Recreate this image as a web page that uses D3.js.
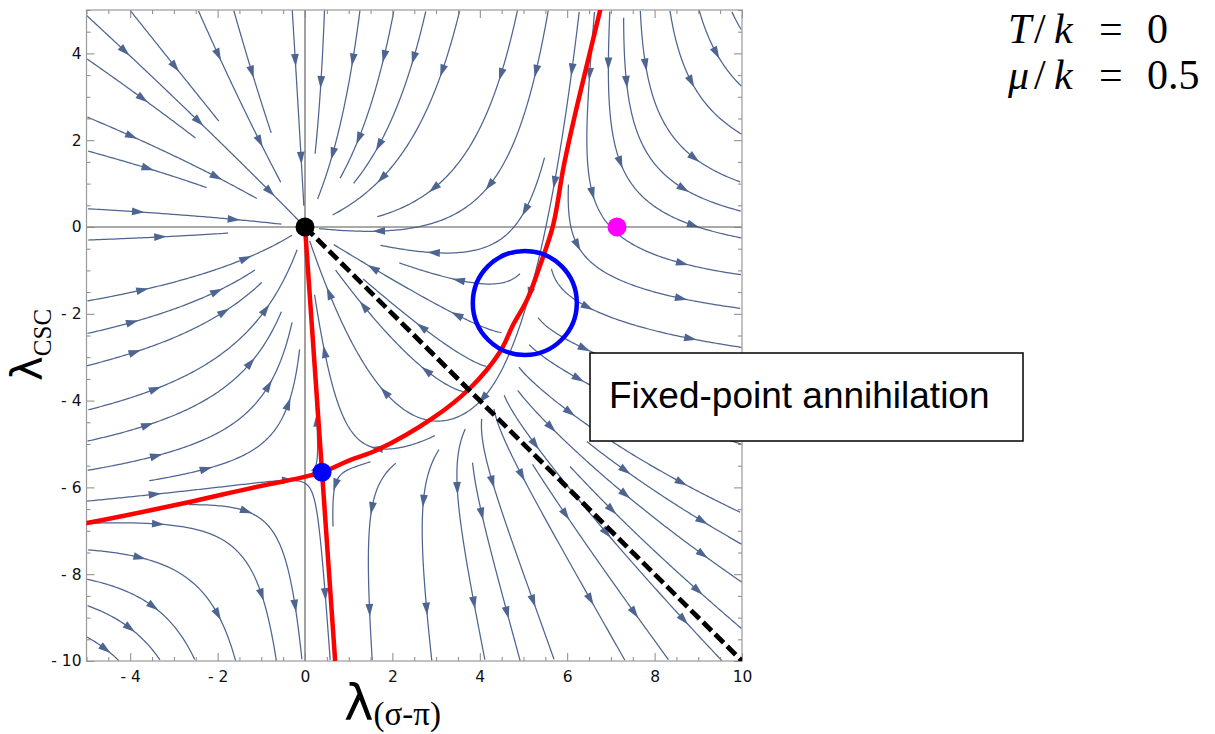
<!DOCTYPE html>
<html lang="en">
<head>
<meta charset="utf-8" />
<title>Fixed-point annihilation stream plot</title>
<style>
html, body { margin: 0; padding: 0; background: #fff; }
svg { display: block; }
text { font-family: "DejaVu Sans", sans-serif; }
.tick text { font-size: 15.5px; fill: #111; }
.tick line { stroke: #888; }
</style>
</head>
<body>
<svg width="1215" height="734"></svg>

<script src="https://cdn.jsdelivr.net/npm/d3@7/dist/d3.min.js"></script>
<script>

// ---- data ----
var xDomain = [-5, 10];
var yDomain = [-10, 5];
var xTickValues = [-4, -2, 0, 2, 4, 6, 8, 10];
var yTickValues = [-10, -8, -6, -4, -2, 0, 2, 4];

// fixed points / markers [lambda_sigma-pi, lambda_csc]
var gaussianFP = [0, 0];
var saddleFP = [0.39, -5.65];
var magentaPoint = [7.14, 0];

// red curves
var redLineA = [[0, 0], [0.39, -5.65], [0.69, -10]];
var redCurveB = [[-5.05, -6.83], [-4.99, -6.82], [-2.75, -6.36], [-1.21, -6.01], [-0.11, -5.78], [0.39, -5.65],
  [1.03, -5.37], [1.65, -5.14], [2.93, -4.40], [3.78, -3.71], [4.46, -2.88], [4.76, -2.26],
  [5.08, -1.68], [5.38, -0.88], [5.68, 0.05], [5.92, 1.40], [6.17, 2.55], [6.45, 3.73], [6.78, 5.1]];

// dashed line
var dashedLine = [[0, 0], [10, -10]];

// annihilation circle: centre and radius
var circleCenter = [5.03, -1.75];
var circleRadius = 1.19;

// flow coefficients (beta functions)
var coefA = 0.17, coefB = -0.078, coefF = 0.0436, coefG = -0.174, coefE = -0.0434, shearK = 0.069;

// ---- layout ----
var svg = d3.select('svg');
var plotL = 86.5, plotR = 742, plotT = 10, plotB = 661;

var x = d3.scaleLinear().domain(xDomain).range([plotL, plotR]);
var y = d3.scaleLinear().domain(yDomain).range([plotB, plotT]);
var kx = (plotR - plotL) / (xDomain[1] - xDomain[0]);
var ky = (plotB - plotT) / (yDomain[1] - yDomain[0]);

svg.append("defs").append("clipPath").attr("id", "plotclip")
	.append("rect").attr("x", plotL).attr("y", plotT)
	.attr("width", plotR - plotL).attr("height", plotB - plotT);

// beta functions of the two couplings
function beta(lx, ly) {
	var u = lx + shearK * ly;
	var du = u * (-1 + coefA * u + coefB * ly);
	var mix = 0;
	if (lx > 0) {
		mix = coefE * lx * lx;
		if (lx > 4.6) mix /= 1 + Math.pow((lx - 4.6) / 4, 2); // softer far right
	}
	var dl = ly * (-1 + coefF * lx + coefG * ly) + mix;
	return [du - shearK * dl, dl];
}

// unit direction in pixel space
function dirAt(px, py) {
	var v = beta(x.invert(px), y.invert(py));
	if (Math.hypot(v[0], v[1]) < 0.01) return null;
	var vx = v[0] * kx, vy = -v[1] * ky, m = Math.hypot(vx, vy);
	return [vx / m, vy / m];
}

// ---- evenly spaced streamlines ----
var dsep = 31, dtest = 14, step = 2;
var buckets = {};
function bkey(p) { return Math.floor(p[0] / dsep) + "," + Math.floor(p[1] / dsep); }
function addPoint(p) { var k = bkey(p); (buckets[k] = buckets[k] || []).push(p); }
function tooClose(p, d) {
	var cx = Math.floor(p[0] / dsep), cy = Math.floor(p[1] / dsep), d2 = d * d;
	for (var i = -1; i <= 1; i++) for (var j = -1; j <= 1; j++) {
		var b = buckets[(cx + i) + "," + (cy + j)];
		if (!b) continue;
		for (var n = 0; n < b.length; n++) {
			var dx = b[n][0] - p[0], dy = b[n][1] - p[1];
			if (dx * dx + dy * dy < d2) return true;
		}
	}
	return false;
}
function inside(p) { return p[0] > plotL && p[0] < plotR && p[1] > plotT && p[1] < plotB; }

function trace(p0, sign) {
	var pts = [], p = p0, prev = null;
	for (var i = 0; i < 400; i++) {
		var d1 = dirAt(p[0], p[1]);
		if (!d1) break;
		var d2 = dirAt(p[0] + sign * d1[0] * step / 2, p[1] + sign * d1[1] * step / 2);
		if (!d2 || d1[0] * d2[0] + d1[1] * d2[1] < 0.3) break;
		if (prev && prev[0] * d2[0] + prev[1] * d2[1] < 0.3) break;
		var q = [p[0] + sign * d2[0] * step, p[1] + sign * d2[1] * step];
		if (!inside(q) || tooClose(q, dtest)) break;
		pts.push(q); p = q; prev = d2;
	}
	return pts;
}

var streams = [];
var queue = [];
function tryLine(seed) {
	if (!inside(seed) || tooClose(seed, dsep)) return;
	var back = trace(seed, -1), fwd = trace(seed, 1);
	var line = back.reverse().concat([seed], fwd);
	if (line.length * step < 22) return;
	line.forEach(addPoint);
	streams.push(line);
	for (var i = 2; i < line.length - 2; i += 5) {
		var tx = line[i + 1][0] - line[i - 1][0], ty = line[i + 1][1] - line[i - 1][1];
		var m = Math.hypot(tx, ty) || 1;
		queue.push([line[i][0] - ty / m * dsep, line[i][1] + tx / m * dsep]);
		queue.push([line[i][0] + ty / m * dsep, line[i][1] - tx / m * dsep]);
	}
}
function drain() { while (queue.length) tryLine(queue.shift()); }

tryLine([x(-2.5), y(2.5)]); drain();
for (var gy = plotT + 8; gy < plotB; gy += 16) {
	for (var gx = plotL + 8; gx < plotR; gx += 16) { tryLine([gx, gy]); drain(); }
}

var streamColor = "#4d6590";
var gStream = svg.append("g").attr("clip-path", "url(#plotclip)");
gStream.selectAll("path.stream").data(streams).enter().append("path")
	.attr("class", "stream")
	.attr("d", d3.line())
	.attr("fill", "none")
	.attr("stroke", streamColor)
	.attr("stroke-width", 1.25);

// arrowheads along each line
var arrows = [];
streams.forEach(function(line) {
	var cum = [0];
	for (var i = 1; i < line.length; i++) cum.push(cum[i - 1] + Math.hypot(line[i][0] - line[i - 1][0], line[i][1] - line[i - 1][1]));
	var L = cum[cum.length - 1];
	if (L < 30) return;
	var n = Math.max(1, Math.round(L / 115));
	for (var k = 0; k < n; k++) {
		var s = (k + 0.5) * L / n, j = 1;
		while (j < cum.length - 1 && cum[j] < s) j++;
		var a = line[Math.max(0, j - 2)], b = line[Math.min(line.length - 1, j + 1)];
		var ang = Math.atan2(b[1] - a[1], b[0] - a[0]);
		arrows.push({ p: line[j], a: ang });
	}
});
gStream.selectAll("path.arrow").data(arrows).enter().append("path")
	.attr("class", "arrow")
	.attr("d", "M6.5,0L-6,-3.9L-6,3.9Z")
	.attr("fill", streamColor)
	.attr("transform", function(d) { return "translate(" + d.p + ") rotate(" + (d.a * 180 / Math.PI) + ")"; });

// ---- axes through the origin ----
svg.append("line").attr("x1", x(0)).attr("x2", x(0)).attr("y1", plotT).attr("y2", plotB)
	.attr("stroke", "#555").attr("stroke-width", 1.1);
svg.append("line").attr("x1", plotL).attr("x2", plotR).attr("y1", y(0)).attr("y2", y(0))
	.attr("stroke", "#555").attr("stroke-width", 1.1);

// ---- frame with inward ticks ----
function fmt(d) { return d < 0 ? "- " + Math.abs(d) : String(d); }
var xMinor = d3.range(-5, 10.01, 0.5).filter(function(v) { return xTickValues.indexOf(v) < 0; });
var yMinor = d3.range(-10, 5.01, 0.5).filter(function(v) { return yTickValues.indexOf(v) < 0; });

function frameAxis(axis, tr, labels) {
	var g = svg.append("g").attr("transform", tr).call(axis);
	g.select(".domain").remove();
	if (!labels) g.selectAll("text").remove();
	return g;
}
frameAxis(d3.axisBottom(x).tickValues(xTickValues).tickSize(-8).tickPadding(10).tickFormat(fmt), "translate(0," + plotB + ")", true);
frameAxis(d3.axisBottom(x).tickValues(xMinor).tickSize(-4).tickFormat(""), "translate(0," + plotB + ")", false);
frameAxis(d3.axisTop(x).tickValues(xTickValues).tickSize(-8), "translate(0," + plotT + ")", false);
frameAxis(d3.axisTop(x).tickValues(xMinor).tickSize(-4), "translate(0," + plotT + ")", false);
frameAxis(d3.axisLeft(y).tickValues(yTickValues).tickSize(-8).tickPadding(5).tickFormat(fmt), "translate(" + plotL + ",0)", true);
frameAxis(d3.axisLeft(y).tickValues(yMinor).tickSize(-4).tickFormat(""), "translate(" + plotL + ",0)", false);
frameAxis(d3.axisRight(y).tickValues(yTickValues).tickSize(-8), "translate(" + plotR + ",0)", false);
frameAxis(d3.axisRight(y).tickValues(yMinor).tickSize(-4), "translate(" + plotR + ",0)", false);

svg.append("rect").attr("x", plotL).attr("y", plotT)
	.attr("width", plotR - plotL).attr("height", plotB - plotT)
	.attr("fill", "none").attr("stroke", "#999").attr("stroke-width", 1.2);

// ---- overlays ----
var line = d3.line().x(function(d) { return x(d[0]); }).y(function(d) { return y(d[1]); });
var gOver = svg.append("g").attr("clip-path", "url(#plotclip)");

gOver.append("path").attr("d", line(redLineA))
	.attr("fill", "none").attr("stroke", "#ff0000").attr("stroke-width", 4.5);
gOver.append("path").attr("d", line.curve(d3.curveCatmullRom)(redCurveB))
	.attr("fill", "none").attr("stroke", "#ff0000").attr("stroke-width", 4.5);
line.curve(d3.curveLinear);

gOver.append("path").attr("d", line(dashedLine))
	.attr("fill", "none").attr("stroke", "#000").attr("stroke-width", 4.8)
	.attr("stroke-dasharray", "12,5");

gOver.append("circle").attr("cx", x(circleCenter[0])).attr("cy", y(circleCenter[1]))
	.attr("r", x(circleCenter[0] + circleRadius) - x(circleCenter[0]))
	.attr("fill", "none").attr("stroke", "#0000ff").attr("stroke-width", 4.5);

var dots = [[gaussianFP, "#000000"], [saddleFP, "#0000ff"], [magentaPoint, "#ff00ff"]];
svg.selectAll("circle.fp").data(dots).enter().append("circle")
	.attr("class", "fp")
	.attr("cx", function(d) { return x(d[0][0]); })
	.attr("cy", function(d) { return y(d[0][1]); })
	.attr("r", 9.5)
	.attr("fill", function(d) { return d[1]; });

// annotation box
svg.append("rect").attr("x", 590).attr("y", 353).attr("width", 433).attr("height", 88)
	.attr("fill", "#fff").attr("stroke", "#000").attr("stroke-width", 1.5);
svg.append("text").attr("x", 609).attr("y", 408)
	.style("font-family", "'Liberation Sans', Arial, sans-serif").style("font-size", "37px")
	.text("Fixed-point annihilation");

// axis labels
var xl = svg.append("text").attr("x", 344).attr("y", 720).style("font-size", "50px");
xl.append("tspan").text("λ");
xl.append("tspan").attr("dy", 5).style("font-size", "33px")
	.style("font-family", "'Liberation Serif', serif").text("(σ-π)");

var yl = svg.append("text").attr("transform", "translate(42,381) rotate(-90)").style("font-size", "42px");
yl.append("tspan").text("λ");
yl.append("tspan").attr("dy", 9).style("font-size", "25px")
	.style("font-family", "'Liberation Serif', serif").text("CSC");

// parameter labels, one text per line
var serif = "'Liberation Serif', 'DejaVu Serif', serif";
function param(yb, parts) {
	var t = svg.append("text").attr("y", yb)
		.style("font-family", serif).style("font-size", "42px");
	parts.forEach(function(p) {
		t.append("tspan").attr("x", p[0])
			.style("font-style", p[2] ? "italic" : "normal")
			.text(p[1]);
	});
}
param(43, [[1008, "T", true], [1034, "/", false], [1054, "k", true], [1099, "=", false], [1147, "0", false]]);
param(89, [[1008, "μ", true], [1034, "/", false], [1054, "k", true], [1099, "=", false], [1147, "0.5", false]]);

</script>
</body>
</html>
